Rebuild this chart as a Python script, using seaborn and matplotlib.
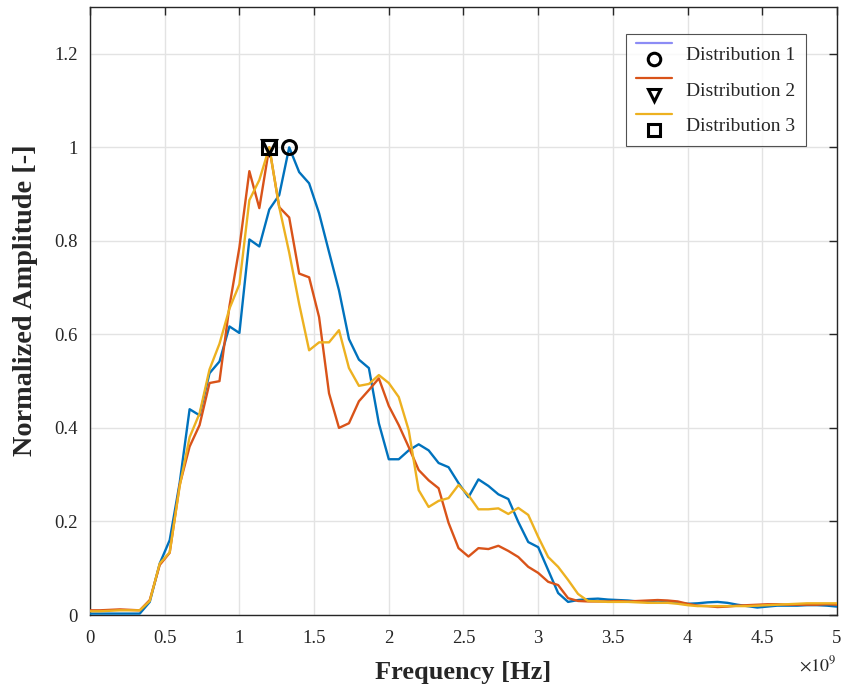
import numpy as np
import pandas as pd
import matplotlib
matplotlib.use("Agg")
import matplotlib.pyplot as plt
import seaborn as sns
from matplotlib.lines import Line2D
from matplotlib.legend_handler import HandlerBase
from matplotlib.ticker import FuncFormatter, MultipleLocator

# ---------------- data ----------------
freq_hz = np.linspace(0, 5e9, 76)

dist1 = [0.003, 0.003, 0.003, 0.003, 0.003, 0.003, 0.028, 0.11, 0.16, 0.282,
         0.44, 0.427, 0.517, 0.542, 0.617, 0.603, 0.803, 0.788, 0.867, 0.898,
         1.0, 0.947, 0.923, 0.859, 0.776, 0.694, 0.59, 0.546, 0.528, 0.41,
         0.333, 0.333, 0.352, 0.365, 0.352, 0.325, 0.316, 0.282, 0.252, 0.29,
         0.276, 0.258, 0.248, 0.199, 0.156, 0.145, 0.096, 0.047, 0.028, 0.032,
         0.034, 0.035, 0.033, 0.032, 0.031, 0.029, 0.028, 0.027, 0.028, 0.026,
         0.024, 0.025, 0.027, 0.028, 0.026, 0.022, 0.019, 0.016, 0.018, 0.02,
         0.02, 0.02, 0.021, 0.021, 0.02, 0.018]

dist2 = [0.01, 0.01, 0.011, 0.012, 0.011, 0.01, 0.032, 0.107, 0.133, 0.278,
         0.36, 0.406, 0.496, 0.5, 0.66, 0.786, 0.949, 0.87, 1.0, 0.872,
         0.85, 0.73, 0.722, 0.637, 0.474, 0.40, 0.41, 0.457, 0.481, 0.506,
         0.447, 0.406, 0.359, 0.31, 0.288, 0.271, 0.197, 0.143, 0.125, 0.143,
         0.141, 0.148, 0.137, 0.124, 0.103, 0.09, 0.071, 0.064, 0.036, 0.03,
         0.029, 0.029, 0.029, 0.03, 0.029, 0.03, 0.031, 0.032, 0.031, 0.029,
         0.024, 0.02, 0.019, 0.017, 0.018, 0.02, 0.021, 0.022, 0.023, 0.023,
         0.022, 0.022, 0.022, 0.022, 0.023, 0.022]

dist3 = [0.008, 0.008, 0.009, 0.01, 0.01, 0.01, 0.03, 0.11, 0.134, 0.275,
         0.38, 0.431, 0.525, 0.58, 0.655, 0.707, 0.887, 0.93, 1.0, 0.872,
         0.775, 0.665, 0.566, 0.583, 0.583, 0.609, 0.528, 0.49, 0.494, 0.513,
         0.496, 0.466, 0.395, 0.267, 0.231, 0.244, 0.25, 0.278, 0.256, 0.226,
         0.226, 0.228, 0.216, 0.229, 0.214, 0.167, 0.124, 0.103, 0.075, 0.045,
         0.03, 0.029, 0.028, 0.028, 0.028, 0.027, 0.026, 0.026, 0.026, 0.024,
         0.021, 0.019, 0.019, 0.019, 0.019, 0.019, 0.019, 0.02, 0.021, 0.022,
         0.023, 0.024, 0.025, 0.025, 0.025, 0.025]

labels = ["Distribution 1", "Distribution 2", "Distribution 3"]
line_colors = ["#0072BD", "#D95319", "#EDB120"]
legend_line_colors = ["#8C8CF5", "#D95319", "#EDB120"]
peak_markers = ["o", "v", "s"]

# ---------------- figure ----------------
sns.set_style("white")
plt.rcParams["font.family"] = ["Liberation Serif", "DejaVu Serif"]
plt.rcParams["mathtext.fontset"] = "stix"

fig = plt.figure(figsize=(8.45, 6.93), dpi=100)
ax = fig.add_axes([90 / 845, 1 - 615 / 693, (837 - 90) / 845, (615 - 7) / 693])

df = pd.DataFrame({
    "freq": np.concatenate([freq_hz] * 3),
    "amp": np.concatenate([dist1, dist2, dist3]),
    "dist": np.repeat(labels, len(freq_hz)),
})
sns.lineplot(data=df, x="freq", y="amp", hue="dist", palette=line_colors,
             linewidth=1.7, legend=False, ax=ax, zorder=3)

# peak markers
for vals, mk in zip([dist1, dist2, dist3], peak_markers):
    k = int(np.argmax(vals))
    ax.plot(freq_hz[k], vals[k], marker=mk, ms=10, mfc="none", mec="black",
            mew=2.2, ls="none", zorder=5, clip_on=False)

ax.set_xlim(0, 5e9)
ax.set_ylim(0, 1.3)
ax.xaxis.set_major_locator(MultipleLocator(0.5e9))
ax.xaxis.set_major_formatter(FuncFormatter(lambda v, p: f"{v / 1e9:g}"))
ax.yaxis.set_major_formatter(FuncFormatter(lambda v, p: f"{v:g}"))
ax.set_yticks([0, 0.2, 0.4, 0.6, 0.8, 1.0, 1.2])

ax.grid(True, color="#E3E3E3", linewidth=1.0, zorder=0)
ax.set_axisbelow(True)
for s in ax.spines.values():
    s.set_color("#262626")
    s.set_linewidth(1.0)
ax.tick_params(direction="in", length=6, width=1.0, colors="#262626",
               top=True, right=True, labelsize=13.5, labelcolor="#262626")
ax.tick_params(axis="x", pad=11)
ax.tick_params(axis="y", pad=9)

ax.set_xlabel("Frequency [Hz]", fontsize=19, fontweight="bold", labelpad=10)
ax.set_ylabel("Normalized Amplitude [-]", fontsize=20.3, fontweight="bold",
              va="center")
ax.yaxis.set_label_coords(-0.087, 0.518)
ax.text(1.0, -0.082, r"$\times10^{9}$", transform=ax.transAxes, ha="right",
        va="center", fontsize=13, color="#262626")


# legend: line sample above marker sample
class StackHandler(HandlerBase):
    def create_artists(self, legend, orig_handle, xdescent, ydescent, width,
                       height, fontsize, trans):
        color, marker = orig_handle
        x0 = -xdescent
        y0 = -ydescent
        ln = Line2D([x0, x0 + width], [y0 + height * 1.1] * 2, color=color,
                    lw=1.6, transform=trans)
        mk = Line2D([x0 + width / 2], [y0 + height * 0.15], marker=marker,
                    ms=9, mfc="none", mec="black", mew=2.2, ls="none",
                    transform=trans)
        return [ln, mk]


handles = list(zip(legend_line_colors, peak_markers))
leg = ax.legend(handles, labels, handler_map={tuple: StackHandler()},
                loc="upper right", bbox_to_anchor=(0.9585, 0.9556),
                fontsize=14, frameon=True, fancybox=False, edgecolor="#262626",
                handlelength=1.85, handleheight=1.0, labelspacing=0.83,
                borderpad=0.55, borderaxespad=0, handletextpad=0.7)
leg.get_frame().set_linewidth(0.8)
leg.set_zorder(6)

fig.savefig("out.png", dpi=100)
